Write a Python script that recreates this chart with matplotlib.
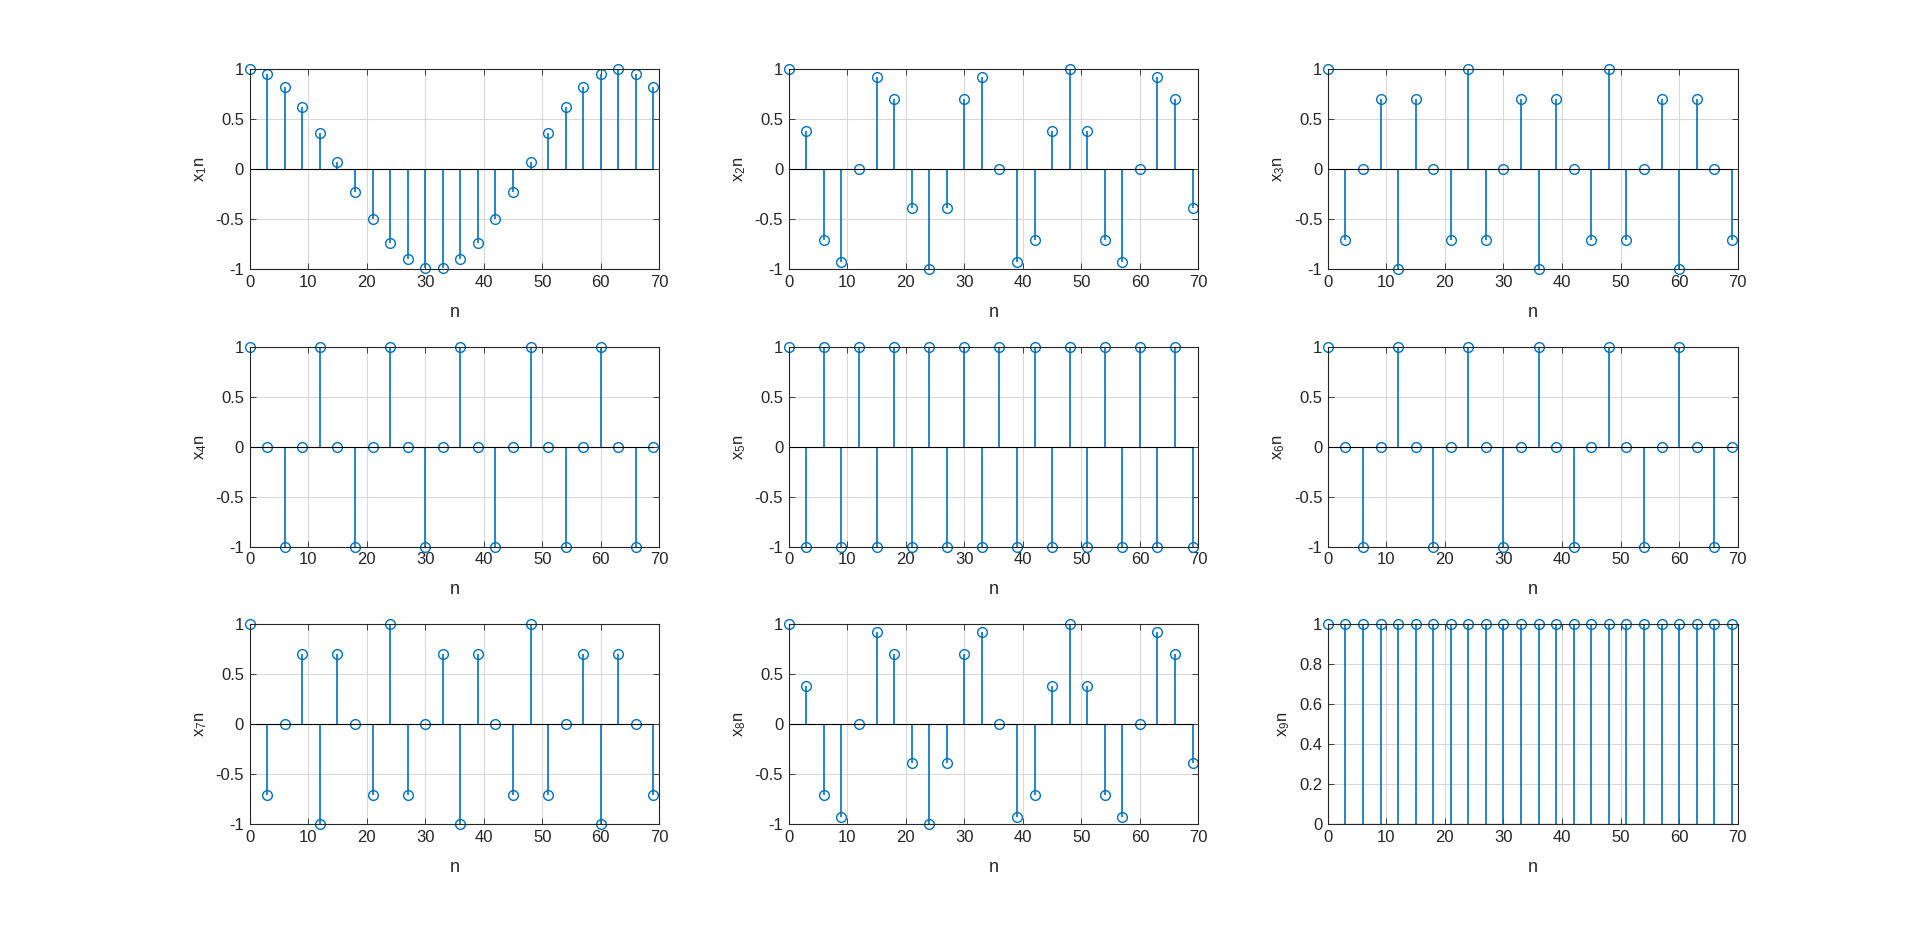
import numpy as np
import matplotlib
matplotlib.use("Agg")
import matplotlib.pyplot as plt

plt.rcParams['font.family'] = ['Liberation Sans', 'DejaVu Sans']
plt.rcParams['mathtext.fontset'] = 'custom'
plt.rcParams['mathtext.rm'] = 'Liberation Sans'
plt.rcParams['mathtext.it'] = 'Liberation Sans'

n = [0, 3, 6, 9, 12, 15, 18, 21, 24, 27, 30, 33, 36, 39, 42, 45, 48, 51, 54, 57, 60, 63, 66, 69]

x1 = [1.0, 0.956, 0.826, 0.624, 0.365, 0.075, -0.223, -0.5, -0.733, -0.901, -0.989, -0.989,
      -0.901, -0.733, -0.5, -0.223, 0.075, 0.365, 0.624, 0.826, 0.956, 1.0, 0.956, 0.826]
x2 = [1.0, 0.383, -0.707, -0.924, 0.0, 0.924, 0.707, -0.383, -1.0, -0.383, 0.707, 0.924,
      0.0, -0.924, -0.707, 0.383, 1.0, 0.383, -0.707, -0.924, 0.0, 0.924, 0.707, -0.383]
x3 = [1.0, -0.707, 0.0, 0.707, -1.0, 0.707, 0.0, -0.707, 1.0, -0.707, 0.0, 0.707,
      -1.0, 0.707, 0.0, -0.707, 1.0, -0.707, 0.0, 0.707, -1.0, 0.707, 0.0, -0.707]
x4 = [1, 0, -1, 0, 1, 0, -1, 0, 1, 0, -1, 0, 1, 0, -1, 0, 1, 0, -1, 0, 1, 0, -1, 0]
x5 = [1, -1, 1, -1, 1, -1, 1, -1, 1, -1, 1, -1, 1, -1, 1, -1, 1, -1, 1, -1, 1, -1, 1, -1]
x6 = [1, 0, -1, 0, 1, 0, -1, 0, 1, 0, -1, 0, 1, 0, -1, 0, 1, 0, -1, 0, 1, 0, -1, 0]
x7 = [1.0, -0.707, 0.0, 0.707, -1.0, 0.707, 0.0, -0.707, 1.0, -0.707, 0.0, 0.707,
      -1.0, 0.707, 0.0, -0.707, 1.0, -0.707, 0.0, 0.707, -1.0, 0.707, 0.0, -0.707]
x8 = [1.0, 0.383, -0.707, -0.924, 0.0, 0.924, 0.707, -0.383, -1.0, -0.383, 0.707, 0.924,
      0.0, -0.924, -0.707, 0.383, 1.0, 0.383, -0.707, -0.924, 0.0, 0.924, 0.707, -0.383]
x9 = [1] * 24

signals = [x1, x2, x3, x4, x5, x6, x7, x8, x9]
ylabels = ['x$_1$n', 'x$_2$n', 'x$_3$n', 'x$_4$n', 'x$_5$n', 'x$_6$n', 'x$_7$n', 'x$_8$n', 'x$_9$n']

blue = (0, 0.447, 0.741)
dark = (0.15, 0.15, 0.15)

fig = plt.figure(figsize=(19.2, 9.26), dpi=100)
lefts = [0.13, 0.4108, 0.6916]
bottoms = [0.7093, 0.4096, 0.11]

for i, (sig, lab) in enumerate(zip(signals, ylabels)):
    r, c = divmod(i, 3)
    ax = fig.add_axes([lefts[c], bottoms[r], 0.2134, 0.2157])
    ml, sl, bl = ax.stem(n, sig, linefmt='-', markerfmt='o', basefmt='-')
    plt.setp(sl, color=blue, linewidth=1.2)
    plt.setp(ml, markerfacecolor='none', markeredgecolor=blue, markersize=7, markeredgewidth=1.0)
    plt.setp(bl, color='black', linewidth=0.8)
    ml.set_clip_on(False)
    ax.set_xlim(0, 70)
    if i == 8:
        ax.set_ylim(0, 1)
        ax.set_yticks([0, 0.2, 0.4, 0.6, 0.8, 1])
        ax.set_yticklabels(['0', '0.2', '0.4', '0.6', '0.8', '1'])
    else:
        ax.set_ylim(-1, 1)
        ax.set_yticks([-1, -0.5, 0, 0.5, 1])
        ax.set_yticklabels(['-1', '-0.5', '0', '0.5', '1'])
    ax.set_xticks(range(0, 71, 10))
    ax.grid(True, color=(0.85, 0.85, 0.85), linewidth=0.8)
    ax.set_axisbelow(True)
    ax.tick_params(direction='in', top=True, right=True, labelsize=12, colors=dark,
                   length=4, width=0.6, pad=4)
    for s in ax.spines.values():
        s.set_color(dark)
        s.set_linewidth(0.8)
    ax.set_xlabel('n', fontsize=13, color=dark, labelpad=10)
    ax.set_ylabel(lab, fontsize=12, color=dark, labelpad=5)

fig.savefig('out.png', dpi=100)
